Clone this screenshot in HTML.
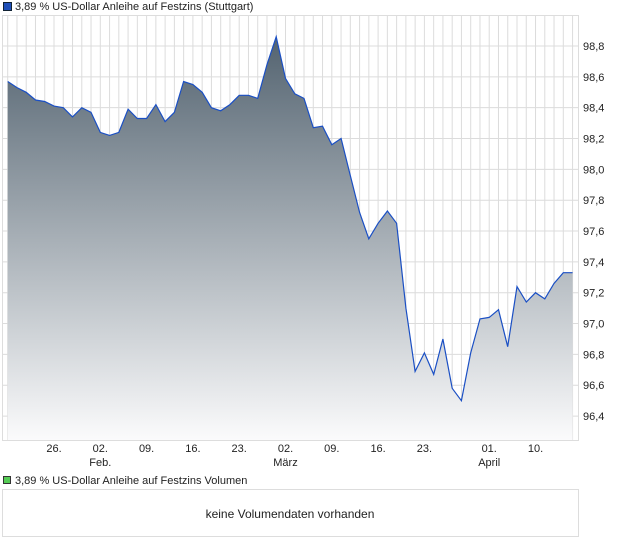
<!DOCTYPE html>
<html><head><meta charset="utf-8"><style>
body{margin:0;background:#fff;font-family:"Liberation Sans",sans-serif;}
svg text{font-family:"Liberation Sans",sans-serif;font-size:11px;fill:#222;}
</style></head><body>
<svg id="c" width="620" height="546" xmlns="http://www.w3.org/2000/svg">
<defs><linearGradient id="g" x1="0" y1="0" x2="0" y2="1">
<stop offset="0" stop-color="#536370"/><stop offset="1" stop-color="#fbfbfc"/></linearGradient></defs>
<rect x="0.5" y="0.5" width="8" height="8" transform="translate(3,2)" fill="#1f4fb8" stroke="#123"/>
<text x="15" y="10">3,89 % US-Dollar Anleihe auf Festzins (Stuttgart)</text>
<rect x="2.5" y="15.5" width="576" height="425" fill="#fff" stroke="#ddd"/>
<g id="grid"></g><g id="series"></g><g id="axes"></g>
<rect x="3.5" y="476.5" width="7" height="7" fill="#5c5" stroke="#333"/>
<text x="15" y="484">3,89 % US-Dollar Anleihe auf Festzins Volumen</text>
<rect x="2.5" y="489.5" width="576" height="47" fill="#fff" stroke="#ddd"/>
<text x="290" y="518" text-anchor="middle" style="font-size:12px">keine Volumendaten vorhanden</text>
</svg>
<script>
const values=[98.57,98.53,98.50,98.45,98.44,98.41,98.40,98.34,98.40,98.37,98.24,98.22,98.24,98.39,98.33,98.33,98.42,98.31,98.37,98.57,98.55,98.50,98.40,98.38,98.42,98.48,98.48,98.46,98.68,98.86,98.59,98.49,98.46,98.27,98.28,98.16,98.20,97.96,97.72,97.55,97.65,97.73,97.65,97.10,96.69,96.81,96.67,96.90,96.58,96.50,96.81,97.03,97.04,97.09,96.85,97.24,97.14,97.20,97.16,97.26,97.33,97.33];
const yTicks=[96.4,96.6,96.8,97.0,97.2,97.4,97.6,97.8,98.0,98.2,98.4,98.6,98.8];
const xTickIdx=[5,10,15,20,25,30,35,40,45,52,57];
const xTickLabels=["26.","02.","09.","16.","23.","02.","09.","16.","23.","01.","10."];
const xMonthIdx=[10,30,52];
const xMonthLabels=["Feb.","März","April"];
const NS="http://www.w3.org/2000/svg";
const X=i=>7.7+i*9.26, Y=v=>46+(98.8-v)*154.2;
function mk(t,a,p){const e=document.createElementNS(NS,t);for(const k in a)e.setAttribute(k,a[k]);p.appendChild(e);return e;}
const grid=document.getElementById('grid'),ser=document.getElementById('series'),ax=document.getElementById('axes');
for(let i=0;i<values.length;i++){const l=mk('line',{x1:X(i),x2:X(i),y1:16,y2:440,stroke:'#dcdcdc'},grid);

}
yTicks.forEach(v=>{const l=mk('line',{x1:3,x2:578,y1:Y(v),y2:Y(v),stroke:'#dcdcdc'},grid);


const t=mk('text',{x:583,y:Y(v)+4},ax);t.textContent=v.toFixed(1).replace('.',',');

});
let d=values.map((v,i)=>(i?'L':'M')+X(i).toFixed(1)+','+Y(v).toFixed(1)).join('');
const a=mk('path',{d:d+'L'+X(values.length-1)+',440L'+X(0)+',440Z',fill:'url(#g)'},ser);


const ln=mk('path',{d:d,fill:'none',stroke:'#1a4fc4','stroke-width':1.2},ser);


xTickIdx.forEach((i,k)=>{const t=mk('text',{x:X(i),y:452,'text-anchor':'middle'},ax);t.textContent=xTickLabels[k];

});
xMonthIdx.forEach((i,k)=>{const t=mk('text',{x:X(i),y:466,'text-anchor':'middle'},ax);t.textContent=xMonthLabels[k];

});
</script>
</body></html>
